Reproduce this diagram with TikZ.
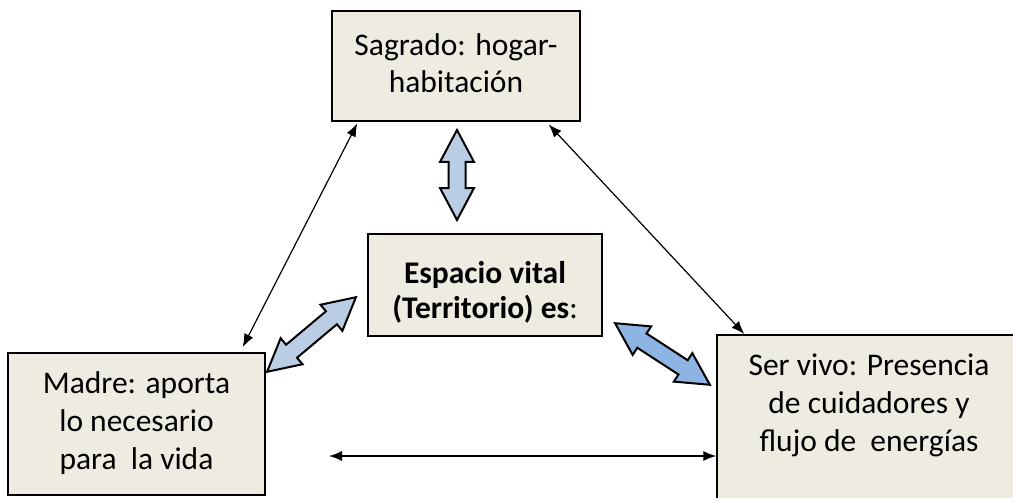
\documentclass[tikz,border=0pt]{standalone}
\usepackage{fontspec}
\setmainfont{Carlito}
\usetikzlibrary{shapes.arrows,arrows.meta}
\definecolor{papel}{HTML}{EEECE1}
\definecolor{azulclaro}{HTML}{B9CDE5}
\definecolor{azulmedio}{HTML}{8EB4E3}
\tikzset{
    caja/.style={rectangle, draw=black, line width=1.5pt, fill=papel, inner sep=0, align=center, anchor=north, font=\fontsize{31.5}{38}\selectfont},
    doble/.style={double arrow, draw=black, line width=2pt, fill=azulclaro, inner sep=7.5pt, double arrow head extend=8.5pt, double arrow tip angle=56},
    enlace/.style={line width=1.2pt, {Latex[length=13pt,width=10pt]}-{Latex[length=13pt,width=10pt]}}
}
\begin{document}
\begin{tikzpicture}[x=1pt,y=-1pt]
    \clip (0,0) rectangle (1013,498);
    % cajas
    \node (sagrado) [caja, minimum width=248pt, text height=82pt, text depth=28pt, font=\fontsize{31.5}{37}\selectfont] at (456,10) {Sagrado: hogar-\\habitación};
    \node (espacio) [caja, minimum width=234pt, text height=85pt, text depth=17pt, font=\fontsize{31.5}{35}\selectfont] at (485,233) {\textbf{Espacio vital}\\\textbf{(Territorio) es}:};
    \node (madre) [caja, minimum width=257pt, text height=117pt, text depth=25pt] at (136.5,352) {Madre: aporta\\lo necesario\\para~~la vida};
    \node (servivo) [caja, minimum width=304pt, text height=117pt, text depth=59pt] at (869,334) {Ser vivo: Presencia\\de cuidadores y\\flujo de~~energías};
    % flechas gruesas
    \node (f1) [doble, minimum height=90pt, rotate=90] at (457,175) {};
    \node (f2) [doble, minimum height=116pt, rotate=40] at (311.5,334.5) {};
    \node (f3) [doble, minimum height=113pt, rotate=-33, fill=azulmedio] at (662.5,354) {};
    % flechas finas
    \coordinate (h) at (329,456);
    \draw[enlace] ([xshift=26pt,yshift=-2pt]sagrado.south west) -- ([xshift=-23pt,yshift=5pt]madre.north east);
    \draw[enlace] ([xshift=-32pt,yshift=-3pt]sagrado.south east) -- ([xshift=28pt]servivo.north west);
    \draw[enlace] (h) -- (h -| servivo.west);
\end{tikzpicture}
\end{document}
